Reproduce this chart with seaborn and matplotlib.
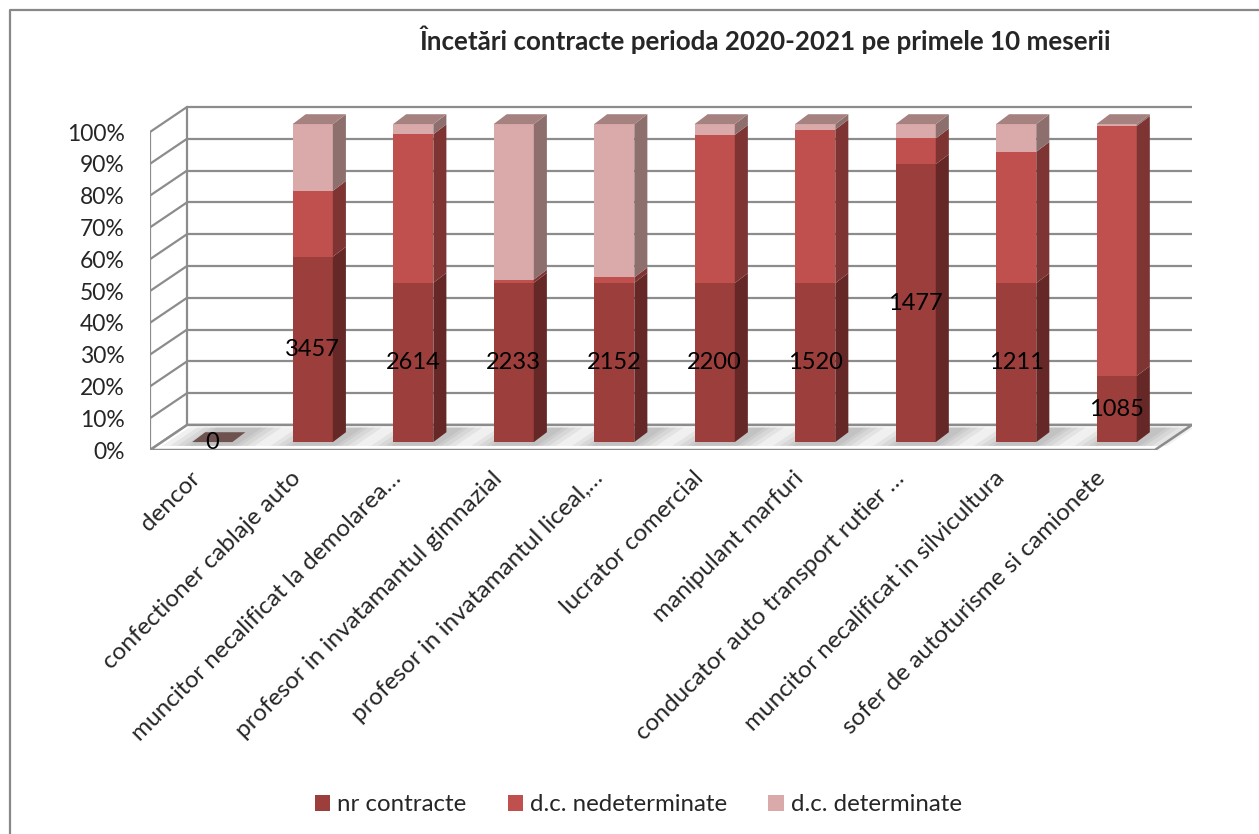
import numpy as np
import pandas as pd
import matplotlib
matplotlib.use("Agg")
import matplotlib.pyplot as plt
from matplotlib.patches import Polygon, Patch
from matplotlib.lines import Line2D
import seaborn as sns

# data (counts, shown as 100% stacked)
categories = [
    "dencor",
    "confectioner cablaje auto",
    "muncitor necalificat la demolarea…",
    "profesor in invatamantul gimnazial",
    "profesor in invatamantul liceal,…",
    "lucrator comercial",
    "manipulant marfuri",
    "conducator auto transport rutier …",
    "muncitor necalificat in silvicultura",
    "sofer de autoturisme si camionete",
]
nr_contracte = [0, 3457, 2614, 2233, 2152, 2200, 1520, 1477, 1211, 1085]
dc_nedeterminate = [0, 1228, 2437, 45, 73, 2050, 1468, 137, 1000, 4100]
dc_determinate = [0, 1245, 167, 2179, 2070, 150, 52, 76, 211, 31]
series_names = ["nr contracte", "d.c. nedeterminate", "d.c. determinate"]
colors = ["#9C3E3B", "#C0504D", "#D9AAA9"]
title = "Încetări contracte perioda 2020-2021 pe primele 10 meserii"

sns.set_theme(style="white")
plt.rcParams["font.family"] = ["Lato", "DejaVu Sans"]

nr = np.array(nr_contracte, float)
ned = np.array(dc_nedeterminate, float)
det = np.array(dc_determinate, float)
total = nr + ned + det
safe = np.where(total > 0, total, 1)
p_nr = nr / safe * 100
p_ned = ned / safe * 100
p_det = det / safe * 100
cum1 = p_nr
cum2 = cum1 + p_ned
cum3 = cum2 + p_det

n = len(categories)
WX, WY = 0.37, 7.9   # depth of walls
BX, BY = 0.12, 2.5   # bar front offset
DX, DY = 0.13, 3.1   # bar depth
W = 0.4
grid_c = "#8c8c8c"

fig = plt.figure(figsize=(12.59, 8.34), dpi=100)
ax = fig.add_axes([0.1191, 0.4604, 0.8277, 0.4137])

# walls and floor
ax.add_patch(Polygon([(-0.5, 0), (n - 0.5, 0), (n - 0.5 + WX, WY), (-0.5 + WX, WY)],
                     closed=True, fc="white", ec=grid_c, lw=1.8, zorder=1))
for t in range(0, 101, 10):
    ax.plot([-0.5, -0.5 + WX], [t, t + WY], color=grid_c, lw=1.6, zorder=0.5)
    ax.plot([-0.5 + WX, n - 0.5 + WX], [t + WY, t + WY], color=grid_c, lw=1.6, zorder=0.5)
ax.plot([-0.5, -0.5], [0, 100], color=grid_c, lw=1.6, zorder=0.5)
ax.plot([-0.5 + WX, -0.5 + WX], [WY, 100 + WY], color=grid_c, lw=1.6, zorder=0.5)

xpos = np.arange(n) + BX

# soft shadows on the floor around each bar
for i in range(n):
    xl = xpos[i] - W / 2
    xr = xpos[i] + W / 2
    for e in [0.3, 0.22, 0.15, 0.08, 0.03]:
        y0 = BY - 1.2
        y1 = BY + DY + 1.5
        sx = (y1 - y0) / WY * WX
        ax.add_patch(Polygon([(xl - e, y0), (xr + e, y0), (xr + e + sx, y1), (xl - e + sx, y1)],
                             closed=True, fc="#7a7a7a", ec="none", alpha=0.11, zorder=1.5))

# bars: draw cumulative layers, biggest first
df = pd.DataFrame({"x": xpos, "c3": cum3, "c2": cum2, "c1": cum1})
for col, c in zip(["c3", "c2", "c1"], colors[::-1]):
    sns.barplot(data=df, x="x", y=col, native_scale=True, width=W, color=c,
                saturation=1, errorbar=None, bottom=BY, linewidth=0, zorder=3, ax=ax)


def shade(c, f):
    r, g, b = matplotlib.colors.to_rgb(c)
    return (r * f, g * f, b * f)


# side and top faces, value labels
for i in range(n):
    xr = xpos[i] + W / 2
    xl = xpos[i] - W / 2
    lows = [0, cum1[i], cum2[i]]
    highs = [cum1[i], cum2[i], cum3[i]]
    top_col = colors[0]
    for lo, hi, c in zip(lows, highs, colors):
        if hi - lo <= 0:
            continue
        top_col = c
        ax.add_patch(Polygon([(xr, BY + lo), (xr + DX, BY + lo + DY),
                              (xr + DX, BY + hi + DY), (xr, BY + hi)],
                             closed=True, fc=shade(c, 0.65), ec="none", zorder=3))
    ytop = BY + cum3[i]
    tc = shade(top_col, 0.76) if total[i] > 0 else "#6e5250"
    ax.add_patch(Polygon([(xl, ytop), (xl + DX, ytop + DY), (xr + DX, ytop + DY), (xr, ytop)],
                         closed=True, fc=tc, ec="none", zorder=3))
    ax.text(xpos[i], BY + p_nr[i] / 2, f"{int(nr[i])}", ha="center", va="center",
            fontsize=17, color="black", zorder=6)

ax.set_xlim(-0.5, n - 0.5 + WX)
ax.set_ylim(0, 100 + WY + 0.6)
for s in ax.spines.values():
    s.set_visible(False)
ax.set_xlabel("")
ax.set_ylabel("")
ax.set_yticks(range(0, 101, 10))
ax.set_yticklabels([f"{t}%" for t in range(0, 101, 10)], fontsize=16.5)
ax.set_xticks(np.arange(n) - 0.03)
ax.set_xticklabels(categories, rotation=45, ha="right", va="center",
                   rotation_mode="anchor", fontsize=17.5)
ax.tick_params(axis="y", length=0, pad=18)
ax.tick_params(axis="x", length=0, pad=18)

fig.text(0.608, 0.952, title, ha="center", va="center", fontsize=18.7, fontweight="bold")

handles = [Patch(facecolor=c, edgecolor="none", label=s) for s, c in zip(series_names, colors)]
fig.legend(handles=handles, loc="center", bbox_to_anchor=(0.507, 0.035), ncol=3,
           frameon=False, fontsize=17.3, handlelength=0.64, handleheight=0.64,
           handletextpad=0.3, columnspacing=1.7)

# outer chart border
bx = 10 / 1259
by = 1 - 10 / 834
fig.add_artist(Line2D([bx, bx, 1.0], [0.0, by, by], transform=fig.transFigure,
                      color="#888888", lw=1.6))

fig.savefig("out.png", dpi=100)
